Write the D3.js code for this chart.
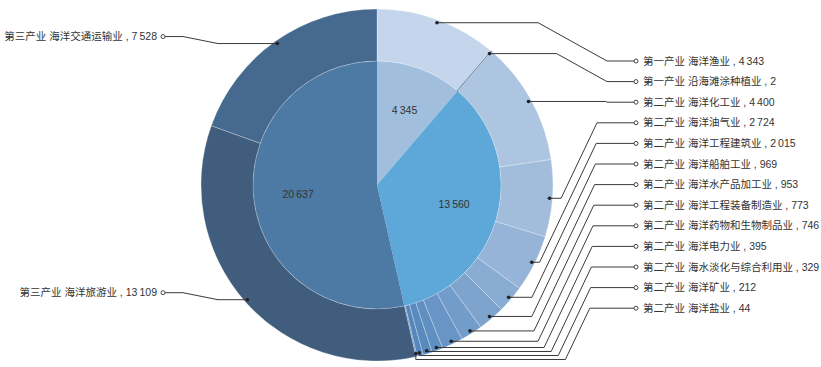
<!DOCTYPE html>
<html>
<head>
<meta charset="utf-8">
<script src="https://cdn.jsdelivr.net/npm/d3@7/dist/d3.min.js"></script>
<style>
	html, body { margin: 0; padding: 0; background: #fff; }
	svg text { font-family: "Liberation Sans", "Noto Sans CJK SC", sans-serif; font-size: 10.5px; fill: #333; }
</style>
</head>
<body>
<svg id="chart" width="821" height="367"></svg>
<script>
// data
var categories  = [ '第一产业', '第二产业', '第三产业' ];
var innerValues = [ 4345, 13560, 20637 ];
var outerNames  = [ '海洋渔业', '沿海滩涂种植业', '海洋化工业', '海洋油气业', '海洋工程建筑业', '海洋船舶工业', '海洋水产品加工业'
	, '海洋工程装备制造业', '海洋药物和生物制品业', '海洋电力业', '海水淡化与综合利用业', '海洋矿业', '海洋盐业', '海洋旅游业', '海洋交通运输业' ];
var outerGroup  = [ 0, 0, 1, 1, 1, 1, 1, 1, 1, 1, 1, 1, 1, 2, 2 ];
var outerValues = [ 4343, 2, 4400, 2724, 2015, 969, 953, 773, 746, 395, 329, 212, 44, 13109, 7528 ];

// styles
var innerColors = [ '#a1bfdd', '#5ea7d9', '#4d7aa5' ];
var outerColors = [ '#c5d5eb', '#4a6585', '#aec5e1', '#a2bddc', '#95b4d7', '#89acd2', '#7ea4ce', '#729cca'
	, '#6895c6', '#608fc2', '#598abe', '#5386bb', '#4e83b8', '#415d7d', '#46698f' ];

var PC = {
	  cx : 377
	, cy : 185
	, ri : 124  // inner pie radius
	, ro : 176  // outer ring radius
}

var svg   = d3.select( '#chart' );
var g     = svg.append( 'g' ).attr( 'transform', 'translate('+ PC.cx +','+ PC.cy +')' );
var fmt   = v => d3.format( ',' )( v ).replace( /,/g, '\u2009' );
var pie   = d3.pie().sort( null ).value( d => d );

var innerArcs = pie( innerValues );
var outerArcs = pie( outerValues );

var arcInner = d3.arc().innerRadius( 0 ).outerRadius( PC.ri );
var arcOuter = d3.arc().innerRadius( PC.ri ).outerRadius( PC.ro );

g.selectAll( 'path.inner' )
	.data( innerArcs )
	.join( 'path' )
	.attr( 'class', 'inner' )
	.attr( 'd', arcInner )
	.attr( 'fill', ( d, i ) => innerColors[ i ] );

g.selectAll( 'path.outer' )
	.data( outerArcs )
	.join( 'path' )
	.attr( 'class', 'outer' )
	.attr( 'd', arcOuter )
	.attr( 'fill', ( d, i ) => outerColors[ i ] )
	.attr( 'stroke', ( d, i ) => d.endAngle - d.startAngle < 0.005 ? outerColors[ i ] : 'rgba(255,255,255,0.45)' )
	.attr( 'stroke-width', ( d, i ) => d.endAngle - d.startAngle < 0.005 ? 1.2 : 0.6 );

// inner labels
var arcLabel = d3.arc().innerRadius( PC.ri * 0.64 ).outerRadius( PC.ri * 0.64 );
g.selectAll( 'text.inner' )
	.data( innerArcs )
	.join( 'text' )
	.attr( 'class', 'inner' )
	.attr( 'transform', d => 'translate('+ arcLabel.centroid( d ) +')' )
	.attr( 'text-anchor', 'middle' )
	.attr( 'dy', '0.35em' )
	.text( d => fmt( d.value ) );

// outer labels + leader lines
var rDot   = PC.ro - 3;
var rowY   = d3.scaleLinear().domain( [ 0, 12 ] ).range( [ 61, 308.2 ] );
var line   = d3.line();
var labels = [];
var prevHy = -Infinity;
var k      = 0;
outerArcs.forEach( ( d, i ) => {
	var a   = ( d.startAngle + d.endAngle ) / 2;
	var dot = [ PC.cx + rDot * Math.sin( a ), PC.cy - rDot * Math.cos( a ) ];
	var txt = categories[ outerGroup[ i ] ] +' '+ outerNames[ i ] +' , '+ fmt( d.value );
	var pts;
	if ( dot[ 0 ] >= PC.cx ) { // right side
		var yl = rowY( i );
		if ( dot[ 1 ] <= yl ) {
			var xs = Math.max( dot[ 0 ], 607 - 1.8 * ( yl - dot[ 1 ] ) );
			pts    = [ dot, [ xs, dot[ 1 ] ], [ 607, yl ], [ 636, yl ] ];
		} else {
			var hy = Math.max( dot[ 1 ], prevHy + 4 );
			var xe = 597 - 0.8 * k;
			var xs = xe - ( hy - yl ) / 2.1;
			pts    = [ dot, [ dot[ 0 ], hy ], [ xs, hy ], [ xe, yl ], [ 636, yl ] ];
			prevHy = hy;
			k++;
		}
		labels.push( { pts: pts, dot: dot, end: [ 636, yl ], text: txt, x: 643, anchor: 'start' } );
	} else { // left side
		var yl = dot[ 1 ] - 7;
		pts    = [ dot, [ 218, dot[ 1 ] ], [ 183, yl ], [ 163, yl ] ];
		labels.push( { pts: pts, dot: dot, end: [ 163, yl ], text: txt, x: 157, anchor: 'end' } );
	}
} );

svg.selectAll( 'path.lead' )
	.data( labels )
	.join( 'path' )
	.attr( 'class', 'lead' )
	.attr( 'd', d => line( d.pts ) )
	.attr( 'fill', 'none' )
	.attr( 'stroke', '#3a3a3a' )
	.attr( 'stroke-width', 1 );
svg.selectAll( 'circle.dot' )
	.data( labels )
	.join( 'circle' )
	.attr( 'class', 'dot' )
	.attr( 'cx', d => d.dot[ 0 ] )
	.attr( 'cy', d => d.dot[ 1 ] )
	.attr( 'r', 1.8 )
	.attr( 'fill', '#222' );
svg.selectAll( 'circle.end' )
	.data( labels )
	.join( 'circle' )
	.attr( 'class', 'end' )
	.attr( 'cx', d => d.end[ 0 ] )
	.attr( 'cy', d => d.end[ 1 ] )
	.attr( 'r', 2 )
	.attr( 'fill', '#fff' )
	.attr( 'stroke', '#444' )
	.attr( 'stroke-width', 1 );
svg.selectAll( 'text.lbl' )
	.data( labels )
	.join( 'text' )
	.attr( 'class', 'lbl' )
	.attr( 'x', d => d.x )
	.attr( 'y', d => d.end[ 1 ] )
	.attr( 'dy', '0.35em' )
	.attr( 'text-anchor', d => d.anchor )
	.text( d => d.text );
</script>
</body>
</html>
